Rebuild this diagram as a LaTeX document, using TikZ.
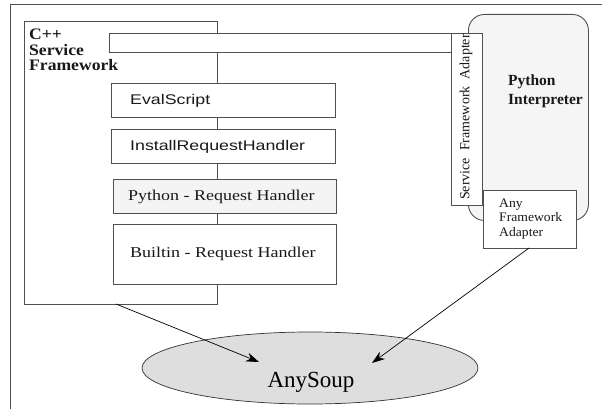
\documentclass[tikz,border=0pt]{standalone}
\usepackage{fontspec}
\setmainfont{Liberation Serif}
\newfontfamily\sfw[FakeStretch=1.27]{Liberation Sans}
\newfontfamily\serw[FakeStretch=1.2]{Liberation Serif}
\newfontfamily\serb[FakeStretch=1.1]{Liberation Serif}
\newfontfamily\sera[FakeStretch=1.05]{Liberation Serif}
\usetikzlibrary{arrows.meta,shapes.geometric}
\definecolor{linegray}{HTML}{505050}
\definecolor{pyfill}{HTML}{F5F5F5}
\definecolor{handlerfill}{HTML}{F4F4F4}
\definecolor{soupfill}{HTML}{DEDEDE}
\tikzset{
  box/.style={draw=linegray, line width=0.9pt, fill=white, rectangle, inner sep=0pt, anchor=north west},
  txt/.style={inner sep=0pt, anchor=base west, text=black!90},
  arr/.style={-{Stealth[length=13pt,width=9pt]}, line width=0.7pt, black}
}
\begin{document}
\begin{tikzpicture}[x=1pt,y=-1pt]
\useasboundingbox (0,0) rectangle (602,409);
% outer frame (clipped)
\coordinate (fbl) at (10,409);
\coordinate (ftl) at (10,4);
\coordinate (ftr) at (602,4);
\draw[linegray, line width=0.9pt] (fbl) -- (ftl) -- (ftr);
% C++ framework
\node[box, minimum width=193pt, minimum height=283pt] (cpp) at (24,21) {};
\node[box, minimum width=343pt, minimum height=19pt] (bar) at (109,33) {};
\node[box, minimum width=224pt, minimum height=34pt] (eval) at (111,83) {};
\node[box, minimum width=224pt, minimum height=34pt] (install) at (111,129) {};
\node[box, fill=handlerfill, minimum width=223pt, minimum height=34pt] (pyh) at (113,179) {};
\node[box, minimum width=223pt, minimum height=60pt] (builtin) at (113,224) {};
% python interpreter
\node[box, fill=pyfill, rounded corners=16pt, minimum width=120pt, minimum height=206pt] (pyint) at (468,14) {};
\node[box, minimum width=31pt, minimum height=172pt] (sfa) at (451,33) {};
\node[box, minimum width=93pt, minimum height=58pt] (anyfa) at (483,190) {};
% AnySoup
\node[draw=black!80, line width=0.7pt, fill=soupfill, ellipse, minimum width=336pt, minimum height=72pt, inner sep=0pt] (soup) at (310,368) {};
% texts
\node[txt, align=left, font=\serb\bfseries\fontsize{16}{15.5}\selectfont] (cpptxt) at (29,71) {C++\\Service\\Framework};
\node[txt, font=\sfw\fontsize{14}{16}\selectfont] (evaltxt) at (130,104.5) {EvalScript};
\node[txt, font=\sfw\fontsize{14}{16}\selectfont] (installtxt) at (130,150) {InstallRequestHandler};
\node[txt, font=\serw\fontsize{15}{17}\selectfont] (pyhtxt) at (128,200) {Python - Request Handler};
\node[txt, font=\serw\fontsize{15}{17}\selectfont] (builtintxt) at (130,257) {Builtin - Request Handler};
\node[txt, align=left, font=\bfseries\fontsize{15.5}{19}\selectfont] (pyinttxt) at (508,104.5) {Python\\Interpreter};
\node[inner sep=0pt, rotate=90, font=\fontsize{14}{16}\selectfont, text=black!90] (sfatxt) at (466,117) {Service\hspace{7pt}Framework\hspace{7pt}Adapter};
\node[txt, align=left, font=\sera\fontsize{13}{14.5}\selectfont] (anyfatxt) at (499,236) {Any\\Framework\\Adapter};
\node[inner sep=0pt, anchor=base, font=\fontsize{23}{26}\selectfont] (souptxt) at (311,387) {AnySoup};
% arrows
\coordinate (a1s) at (116,304);
\coordinate (a1e) at (259,362);
\coordinate (a2s) at (529,248);
\coordinate (a2e) at (372,363);
\draw[arr] (a1s) -- (a1e);
\draw[arr] (a2s) -- (a2e);
\end{tikzpicture}
\end{document}
